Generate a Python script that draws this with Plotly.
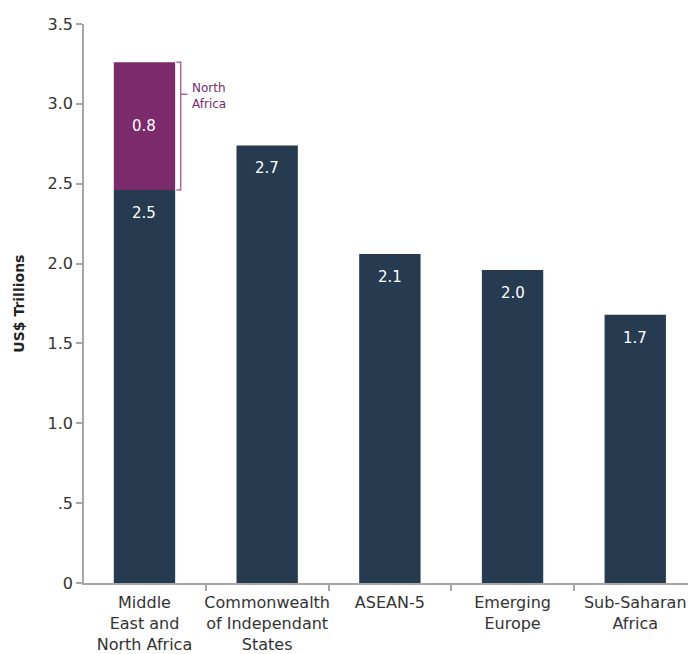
import plotly.graph_objects as go

categories = ["Middle<br>East and<br>North Africa", "Commonwealth<br>of Independant<br>States",
              "ASEAN-5", "Emerging<br>Europe", "Sub-Saharan<br>Africa"]
base_values = [2.46, 2.74, 2.06, 1.96, 1.68]
north_africa = [0.80]
y_tickvals = [0, 0.5, 1.0, 1.5, 2.0, 2.5, 3.0, 3.5]
y_ticktext = ["0", ".5", "1.0", "1.5", "2.0", "2.5", "3.0", "3.5"]

NAVY = "#263A50"
PURPLE = "#7B2A6C"
BRACKET = "#A56A97"
AXIS = "#A6A6A6"
FONT = "DejaVu Sans"
TXT = "#333333"

fig = go.Figure()
fig.add_trace(go.Bar(x=categories, y=base_values, marker=dict(color=NAVY, line=dict(width=0)),
                     width=0.5, hoverinfo="skip"))
fig.add_trace(go.Bar(x=categories[:1], y=north_africa, base=base_values[:1],
                     marker=dict(color=PURPLE, line=dict(width=0)), width=0.5, hoverinfo="skip"))

annotations = []
for c, v in zip(categories, base_values):
    annotations.append(dict(x=c, y=v, xref="x", yref="y", text=f"{v:.1f}", showarrow=False,
                            yanchor="middle", yshift=-23,
                            font=dict(family=FONT, size=15, color="white")))
annotations.append(dict(x=categories[0], y=base_values[0] + north_africa[0] / 2, xref="x", yref="y",
                        text=f"{north_africa[0]:.1f}", showarrow=False, yanchor="middle",
                        font=dict(family=FONT, size=15, color="white")))
# bracket label
top = base_values[0] + north_africa[0]
mid_y = top - 0.2
annotations.append(dict(x=0.37, y=mid_y, xref="x", yref="y", text="North<br>Africa",
                        showarrow=False, xanchor="left", yanchor="middle", align="left", yshift=-2,
                        font=dict(family=FONT, size=12, color=PURPLE)))
# y axis title
annotations.append(dict(x=-0.109, y=0.5, xref="paper", yref="paper", text="<b>US$ Trillions</b>",
                        textangle=-90, showarrow=False, xanchor="center", yanchor="middle",
                        font=dict(family=FONT, size=14, color="#222222")))

shapes = [
    dict(type="path", xref="x", yref="y",
         path=f"M 0.26,{base_values[0]} L 0.295,{base_values[0]} L 0.295,{top} L 0.26,{top}",
         line=dict(color=BRACKET, width=1.5)),
    dict(type="line", xref="x", yref="y", x0=0.295, x1=0.35, y0=mid_y, y1=mid_y,
         line=dict(color=BRACKET, width=1.5)),
]

fig.update_layout(
    width=688, height=654,
    margin=dict(l=84, r=0, t=24, b=71),
    paper_bgcolor="white", plot_bgcolor="white",
    barmode="overlay", showlegend=False,
    annotations=annotations, shapes=shapes,
    font=dict(family=FONT, size=16, color=TXT),
    xaxis=dict(range=[-0.493, 4.43], showline=True, linecolor=AXIS, linewidth=1.5,
               ticks="outside", tickson="boundaries", ticklen=6, tickcolor=AXIS, tickwidth=1.5,
               tickangle=0, automargin=False, ticklabelstandoff=4,
               tickfont=dict(family=FONT, size=16, color=TXT), showgrid=False, zeroline=False),
    yaxis=dict(range=[0, 3.5], tickvals=y_tickvals, ticktext=y_ticktext, showline=True,
               linecolor=AXIS, linewidth=1.5, ticks="outside", ticklen=6, tickcolor=AXIS,
               tickwidth=1.5, automargin=False, tickfont=dict(family=FONT, size=16, color=TXT),
               showgrid=False, zeroline=False),
)

fig.write_html("out.html")
